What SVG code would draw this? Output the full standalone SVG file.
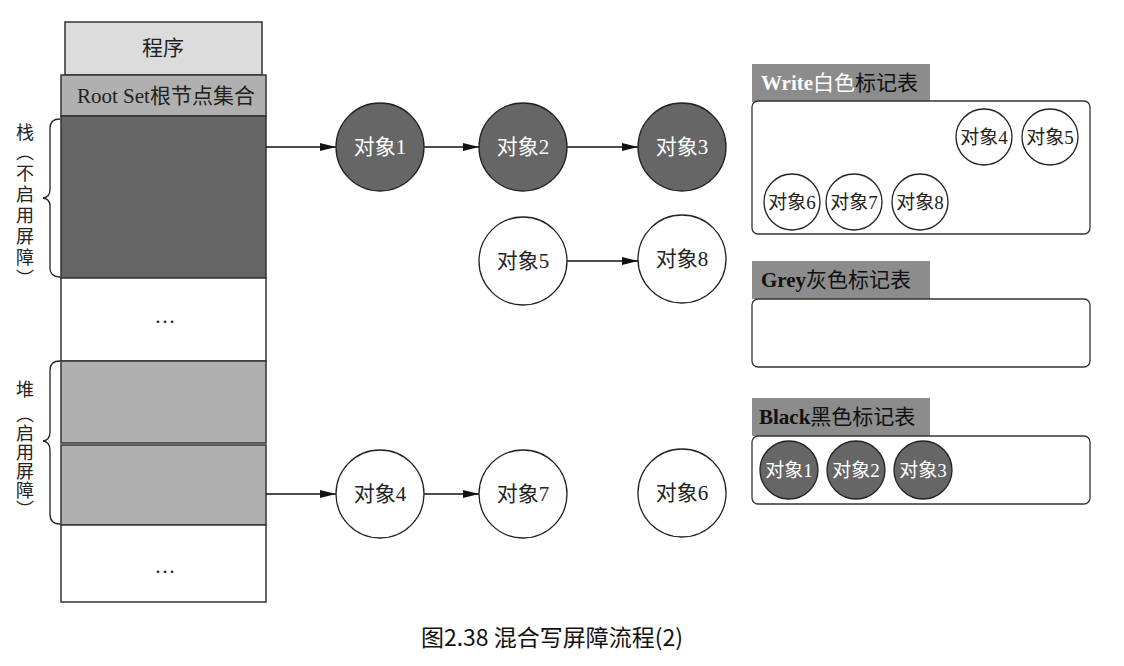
<svg xmlns="http://www.w3.org/2000/svg" width="1124" height="666" viewBox="0 0 1124 666">
<defs>
<marker id="arr" markerWidth="16" markerHeight="8" refX="16" refY="4" orient="auto" markerUnits="userSpaceOnUse">
<path d="M0,0 L16,4 L0,8 Z" fill="#111"/>
</marker>
<style>
.t{font-family:"Liberation Serif","Noto Sans CJK SC",serif;font-size:21px;fill:#222;text-anchor:middle;dominant-baseline:central}
.ts{font-family:"Liberation Serif","Noto Sans CJK SC",serif;font-size:19px;fill:#222;text-anchor:middle;dominant-baseline:central}
.w{fill:#fff}
.box{stroke:#333;stroke-width:1.5}
.cw{fill:#fff;stroke:#222;stroke-width:1.3}
.cd{fill:#666;stroke:#222;stroke-width:1.3}
.edge{stroke:#111;stroke-width:1.3;fill:none;marker-end:url(#arr)}
.brace{fill:none;stroke:#222;stroke-width:1.3}
.hdr{fill:#8c8c8c}
.panel{fill:#fff;stroke:#333;stroke-width:1.3}
.side{font-family:"Noto Sans CJK SC",sans-serif;font-size:18px;fill:#222;text-anchor:middle;dominant-baseline:central}
.vert{font-family:"Noto Sans CJK SC",sans-serif;font-size:18px;fill:#222;writing-mode:vertical-rl;text-anchor:start}
.h{font-family:"Liberation Serif","Noto Sans CJK SC",serif;font-size:21px;dominant-baseline:central}
.lat{font-weight:bold}
</style>
</defs>
<rect width="1124" height="666" fill="#fff"/>

<g id="memory">
<rect class="box" x="65" y="22" width="197" height="53" fill="#dcdcdc"/>
<text class="t" x="163" y="48">程序</text>
<rect class="box" x="61" y="75" width="205" height="41" fill="#b0b0b0"/>
<text class="t" x="166" y="96">Root Set根节点集合</text>
<rect class="box" x="61" y="116" width="205" height="162" fill="#666"/>
<rect class="box" x="61" y="278" width="205" height="83" fill="#fff"/>
<text class="t" x="165" y="316">…</text>
<rect class="box" x="61" y="361" width="205" height="82" fill="#b0b0b0"/>
<rect class="box" x="61" y="445" width="205" height="80" fill="#b0b0b0"/>
<rect class="box" x="61" y="525" width="205" height="77" fill="#fff"/>
<text class="t" x="165" y="566">…</text>
</g>

<g id="stack-label">
<path class="brace" d="M60,119 Q50,119 50,128 L50,190 Q50,197 43,198 Q50,199 50,206 L50,268 Q50,277 60,277"/>
<text class="side" x="25" y="131">栈</text>
<text class="vert" x="25" y="143" letter-spacing="3">（不启用屏障）</text>
</g>

<g id="heap-label">
<path class="brace" d="M60,361 Q50,361 50,370 L50,432 Q50,440 43,441 Q50,442 50,450 L50,514 Q50,524 60,524"/>
<text class="side" x="25" y="388">堆</text>
<text class="vert" x="25" y="405" letter-spacing="1">（启用屏障）</text>
</g>

<g id="connectors">
<line class="edge" x1="266" y1="147" x2="336" y2="147"/>
<line class="edge" x1="424" y1="147" x2="479" y2="147"/>
<line class="edge" x1="567" y1="147" x2="638" y2="147"/>
<line class="edge" x1="567" y1="261" x2="638" y2="261"/>
<line class="edge" x1="266" y1="494" x2="336" y2="494"/>
<line class="edge" x1="424" y1="494" x2="479" y2="494"/>
</g>

<g id="obj1"><circle class="cd" cx="380" cy="147" r="44"/><text class="t w" x="380" y="147">对象1</text></g>
<g id="obj2"><circle class="cd" cx="523" cy="147" r="44"/><text class="t w" x="523" y="147">对象2</text></g>
<g id="obj3"><circle class="cd" cx="682" cy="147" r="44"/><text class="t w" x="682" y="147">对象3</text></g>
<g id="obj5"><circle class="cw" cx="523" cy="261" r="44"/><text class="t" x="523" y="261">对象5</text></g>
<g id="obj8"><circle class="cw" cx="682" cy="259" r="44"/><text class="t" x="682" y="259">对象8</text></g>
<g id="obj4"><circle class="cw" cx="380" cy="494" r="44"/><text class="t" x="380" y="494">对象4</text></g>
<g id="obj7"><circle class="cw" cx="523" cy="494" r="44"/><text class="t" x="523" y="494">对象7</text></g>
<g id="obj6"><circle class="cw" cx="682" cy="493" r="44"/><text class="t" x="682" y="493">对象6</text></g>

<g id="white-table">
<rect class="hdr" x="752" y="64" width="178" height="38"/>
<text class="h" x="761" y="83"><tspan class="lat" fill="#fff">Write</tspan><tspan fill="#fff">白色</tspan><tspan fill="#111">标记表</tspan></text>
<rect class="panel" x="752" y="101" width="338" height="133" rx="6"/>
<circle class="cw" cx="984" cy="137" r="28"/><text class="ts" x="984" y="137">对象4</text>
<circle class="cw" cx="1050" cy="137" r="28"/><text class="ts" x="1050" y="137">对象5</text>
<circle class="cw" cx="792" cy="202" r="28"/><text class="ts" x="792" y="202">对象6</text>
<circle class="cw" cx="854" cy="202" r="28"/><text class="ts" x="854" y="202">对象7</text>
<circle class="cw" cx="920" cy="202" r="28"/><text class="ts" x="920" y="202">对象8</text>
</g>

<g id="grey-table">
<rect class="hdr" x="752" y="261" width="178" height="38"/>
<text class="h" x="761" y="280" fill="#111"><tspan class="lat">Grey</tspan>灰色标记表</text>
<rect class="panel" x="752" y="299" width="338" height="68" rx="6"/>
</g>

<g id="black-table">
<rect class="hdr" x="752" y="398" width="178" height="38"/>
<text class="h" x="759" y="417" fill="#111"><tspan class="lat">Black</tspan>黑色标记表</text>
<rect class="panel" x="752" y="436" width="338" height="68" rx="6"/>
<circle class="cd" cx="789" cy="470" r="29"/><text class="ts w" x="789" y="470">对象1</text>
<circle class="cd" cx="856" cy="470" r="29"/><text class="ts w" x="856" y="470">对象2</text>
<circle class="cd" cx="923" cy="470" r="29"/><text class="ts w" x="923" y="470">对象3</text>
</g>

<text x="552" y="646" style="font-family:'Noto Sans CJK SC',sans-serif;font-size:23px;fill:#111;text-anchor:middle">图2.38 混合写屏障流程(2)</text>
</svg>
